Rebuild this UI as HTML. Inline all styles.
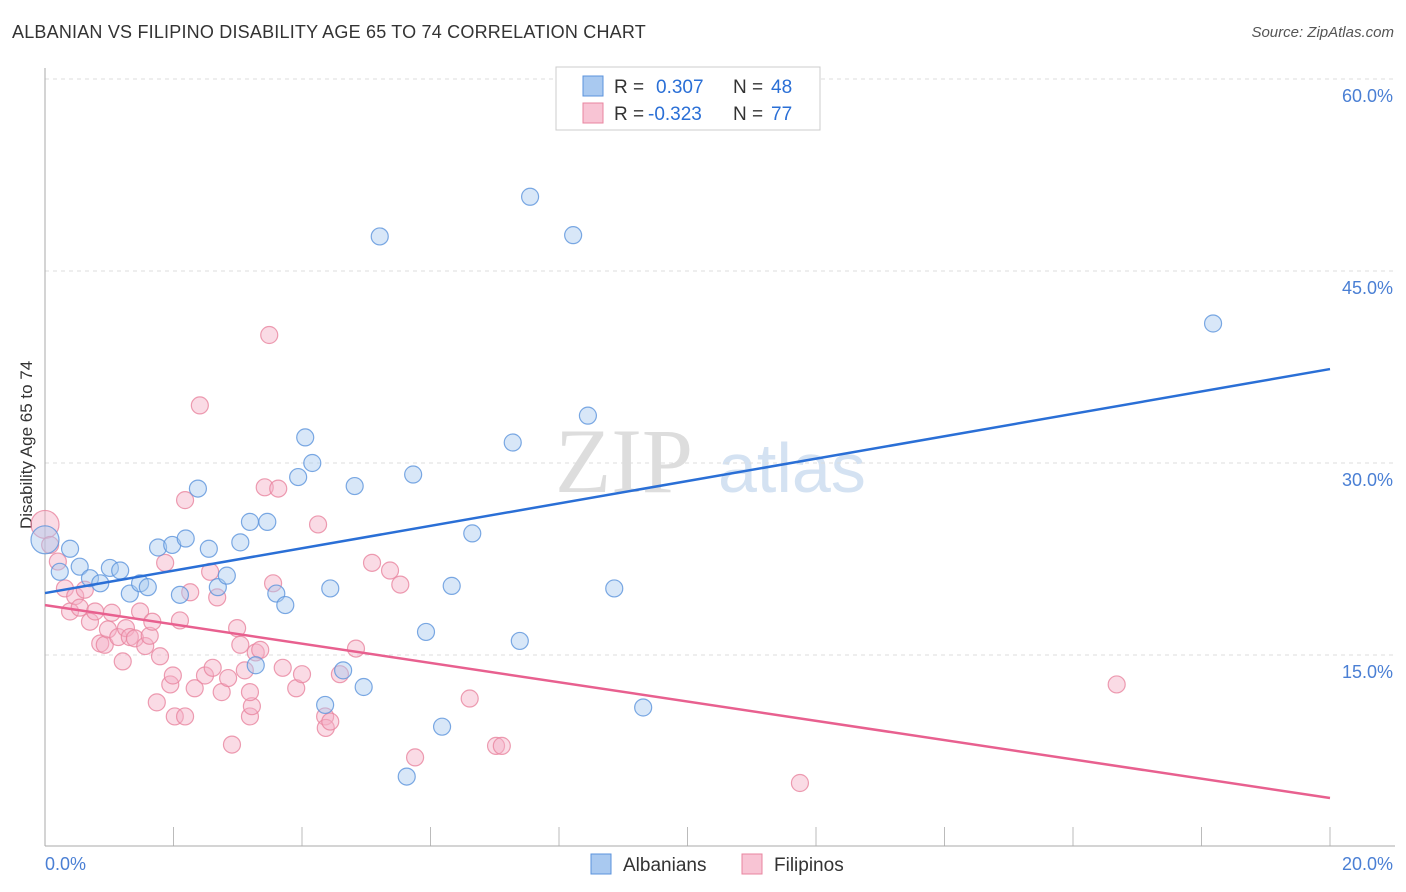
<!DOCTYPE html>
<html><head><meta charset="utf-8">
<style>
body{margin:0;background:#fff;font-family:"Liberation Sans",sans-serif;}
#wrap{position:relative;width:1406px;height:892px;overflow:hidden;}
.t{position:absolute;white-space:nowrap;}
</style></head>
<body>
<div id="wrap">
<div class="t" style="left:12px;top:22px;font-size:18px;color:#333;letter-spacing:0.2px;">ALBANIAN VS FILIPINO DISABILITY AGE 65 TO 74 CORRELATION CHART</div>
<div class="t" style="right:12px;top:24px;font-size:15px;color:#555;font-style:italic;">Source: ZipAtlas.com</div>
<div class="t" style="left:-48px;top:444px;font-size:17px;color:#333;transform:rotate(-90deg);width:150px;text-align:center;">Disability Age 65 to 74</div>
<svg id="chart" width="1406" height="892" style="position:absolute;left:0;top:0"></svg>
</div>
<script>
const xTicks=[0,2,4,6,8,10,12,14,16,18,20];
const yTicks=[15,30,45,60];
const yTickLabels=["15.0%","30.0%","45.0%","60.0%"];
const xEndLabels=["0.0%","20.0%"];
const albX=[0.00,0.39,0.23,0.54,0.70,0.86,1.01,1.17,1.32,1.48,1.60,1.76,1.98,2.10,2.19,2.38,2.55,2.69,2.83,3.04,3.19,3.46,3.60,3.74,3.94,4.05,4.16,4.44,4.64,4.36,4.82,4.96,5.21,5.63,5.73,5.93,6.18,6.33,6.65,7.28,7.39,7.55,8.22,8.45,8.86,9.31,18.18,3.28];
const albY=[24.0,23.3,21.5,21.9,21.0,20.6,21.8,21.6,19.8,20.6,20.3,23.4,23.6,19.7,24.1,28.0,23.3,20.3,21.2,23.8,25.4,25.4,19.8,18.9,28.9,32.0,30.0,20.2,13.8,11.1,28.2,12.5,47.7,5.5,29.1,16.8,9.4,20.4,24.5,31.6,16.1,50.8,47.8,33.7,20.2,10.9,40.9,14.2];
const filX=[0.00,0.08,0.20,0.31,0.39,0.47,0.54,0.62,0.70,0.78,0.86,0.93,0.98,1.04,1.14,1.21,1.26,1.32,1.40,1.48,1.56,1.63,1.67,1.79,1.74,1.87,1.95,1.99,2.02,2.10,2.18,2.18,2.26,2.33,2.41,2.49,2.57,2.61,2.68,2.75,2.85,2.91,2.99,3.04,3.11,3.19,3.22,3.28,3.35,3.42,3.49,3.55,3.63,3.70,3.91,4.00,4.25,4.36,4.37,4.44,4.59,4.84,5.09,5.37,5.53,5.76,6.61,7.02,7.11,11.75,16.68,3.19];
const filY=[25.2,23.6,22.3,20.2,18.4,19.6,18.7,20.1,17.6,18.4,15.9,15.8,17.0,18.3,16.4,14.5,17.1,16.4,16.3,18.4,15.7,16.5,17.6,14.9,11.3,22.2,12.7,13.4,10.2,17.7,10.2,27.1,19.9,12.4,34.5,13.4,21.5,14.0,19.5,12.1,13.2,8.0,17.1,15.8,13.8,10.2,11.0,15.2,15.4,28.1,40.0,20.6,28.0,14.0,12.4,13.5,25.2,10.2,9.3,9.8,13.5,15.5,22.2,21.6,20.5,7.0,11.6,7.9,7.9,5.0,12.7,12.1];
const trendX=[0,20];
const albTrend=[19.84,37.34];
const filTrend=[18.9,3.83];

const NS="http://www.w3.org/2000/svg";
const svg=document.getElementById('chart');
const X=v=>45+v*64.25;
const Y=v=>847-v*12.8;
function mk(tag,attrs,parent){const e=document.createElementNS(NS,tag);for(const k in attrs)e.setAttribute(k,attrs[k]);(parent||svg).appendChild(e);return e;}

// watermark
let wm=mk('text',{x:555,y:492,'font-size':92,'font-family':'Liberation Serif, serif',fill:'#ddd'});


wm.textContent='ZIP';
let wm2=mk('text',{x:718,y:492,'font-size':70,'font-family':'Liberation Sans, sans-serif',fill:'#d4e2f2'});


wm2.textContent='atlas';

yTicks.forEach((t,i)=>{
  let g=mk('line',{x1:45,x2:1395,y1:Y(t),y2:Y(t),stroke:'#ddd','stroke-dasharray':'4,4'});
  
  
  let l=mk('text',{x:1393,y:Y(t)+23,'text-anchor':'end','font-size':18,fill:'#4a7fd4','font-family':'Liberation Sans, sans-serif'});
  
  
  l.textContent=yTickLabels[i];
});
xTicks.forEach(t=>{
  let k=mk('line',{x1:X(t),x2:X(t),y1:827,y2:846,stroke:'#bbb'});
  
  
});
let ax=mk('line',{x1:45,x2:45,y1:68,y2:846,stroke:'#aaa'});


let bx=mk('line',{x1:45,x2:1395,y1:846,y2:846,stroke:'#aaa'});


[[xTicks[0],'start',45],[xTicks[xTicks.length-1],'end',1393]].forEach((d,i)=>{
  let l=mk('text',{x:d[2],y:870,'text-anchor':d[1],'font-size':18,fill:'#4a7fd4','font-family':'Liberation Sans, sans-serif'});
  
  
  l.textContent=xEndLabels[i];
});

function pts(xs,ys,fill,stroke,name){
  xs.forEach((x,i)=>{
    const r=(i===0)?14:8.5;
    let c=mk('circle',{cx:X(x),cy:Y(ys[i]),r:r,fill:fill,'fill-opacity':0.45,stroke:stroke,'stroke-width':1.2,'stroke-opacity':0.8});
    
    
  });
}
pts(filX,filY,'#f4b0c6','#e8859f','filipino-point');
pts(albX,albY,'#a9c9f0','#5b93dc','albanian-point');

let tl1=mk('line',{x1:X(trendX[0]),y1:Y(albTrend[0]),x2:X(trendX[1]),y2:Y(albTrend[1]),stroke:'#2a6fd6','stroke-width':2.5});


let tl2=mk('line',{x1:X(trendX[0]),y1:Y(filTrend[0]),x2:X(trendX[1]),y2:Y(filTrend[1]),stroke:'#e8608f','stroke-width':2.5});



// top legend
let lg=mk('rect',{x:556,y:67,width:264,height:63,fill:'#fff',stroke:'#ccc'});


[['#a9c9f0','#5b93dc','0.307','48',86],['#f8c4d4','#e8859f','-0.323','77',113]].forEach(d=>{
  let s=mk('rect',{x:583,y:d[4]-10,width:20,height:20,fill:d[0],stroke:d[1]});
  
  
  let t=mk('text',{x:614,y:d[4]+7,'font-size':19,fill:'#333','font-family':'Liberation Sans, sans-serif'});
  
  
  t.innerHTML='R = <tspan fill="#2a6fd6" x="'+(d[2].length>5?648:656)+'">'+d[2]+'</tspan><tspan x="733">N = </tspan><tspan fill="#2a6fd6" x="771">'+d[3]+'</tspan>';
});
// bottom legend
[['#a9c9f0','#5b93dc','Albanians',591],['#f8c4d4','#e8859f','Filipinos',742]].forEach(d=>{
  let s=mk('rect',{x:d[3],y:854,width:20,height:20,fill:d[0],stroke:d[1]});
  
  
  let t=mk('text',{x:d[3]+32,y:871,'font-size':19,fill:'#333','font-family':'Liberation Sans, sans-serif'});
  
  
  t.textContent=d[2];
});
</script>
</body></html>
